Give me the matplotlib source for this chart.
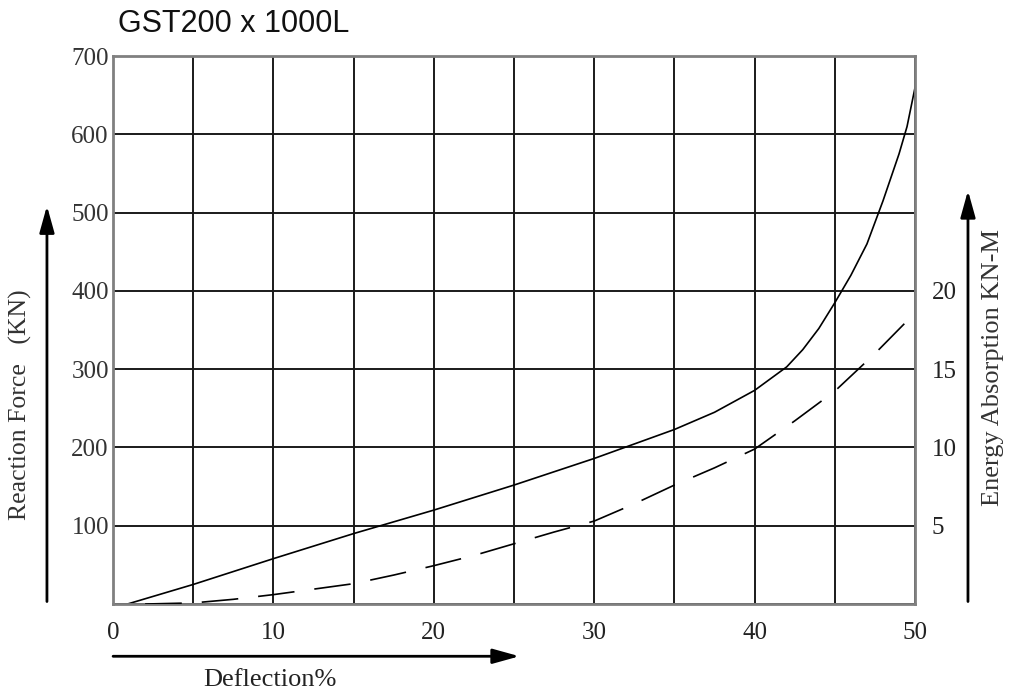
#! /usr/bin/env python
# -*- coding: utf-8 -*-
"""
GST200 x 1000L fender performance curve:
reaction force and energy absorption vs deflection
"""
import matplotlib
matplotlib.use('Agg')
import matplotlib.pyplot as plt
from matplotlib.patches import FancyArrowPatch

## Data
# Reaction force curve (solid), KN
force_defl = [0.9, 5, 10, 15, 20, 25, 30, 35, 37.5, 40, 41, 42, 43, 44,
              45, 46, 47, 48, 49, 49.5, 50]
force_kn = [0, 25, 58, 90, 120, 152, 186, 223, 245, 273, 288, 303, 325, 352,
            385, 420, 460, 515, 575, 610, 660]
# Energy absorption curve (dashed), KN-M
energy_defl = [2, 5, 7.5, 10, 12.5, 15, 17.5, 20, 22.5, 25, 27.5, 30, 32.5,
               35, 37.5, 40, 42.5, 45, 47.5, 50]
energy_knm = [0, 0.07, 0.3, 0.6, 0.95, 1.3, 1.85, 2.45, 3.1, 3.85, 4.6, 5.3,
              6.4, 7.6, 8.7, 9.9, 11.7, 13.6, 16.0, 18.6]

x_grid = list(range(0, 51, 5))
x_labels = ['0', '', '10', '', '20', '', '30', '', '40', '', '50']
y_grid = list(range(0, 701, 100))
y_labels = ['', '100', '200', '300', '400', '500', '600', '700']
e_ticks = [5, 10, 15, 20]

title = 'GST200 x 1000L'
serif = 'Liberation Serif'


def add_arrow(fig, start, end):
    """
    Draws a black arrow in figure coordinates
    """
    arr = FancyArrowPatch(start, end, transform=fig.transFigure,
                          arrowstyle='-|>,head_length=0.9,head_width=0.25',
                          mutation_scale=18, color='black', lw=2)
    fig.add_artist(arr)


def main():
    fig = plt.figure(figsize=(10.12, 6.93), dpi=100)
    ax = fig.add_axes([0.1117, 0.1284, 0.7925, 0.7906])
    #
    # Grid
    ax.set_xlim(0, 50)
    ax.set_ylim(0, 700)
    ax.set_xticks(x_grid)
    ax.set_xticklabels(x_labels, fontfamily=serif, fontsize=18)
    ax.set_yticks(y_grid)
    ax.set_yticklabels(y_labels, fontfamily=serif, fontsize=18)
    ax.tick_params(length=0)
    ax.tick_params(axis='x', pad=13, colors='#222222')
    ax.tick_params(axis='y', pad=3, colors='#333333')
    ax.grid(True, color='#1a1a1a', linewidth=1.4)
    for sp in ax.spines.values():
        sp.set_color('#808080')
        sp.set_linewidth(2)
    #
    # Reaction force
    ax.plot(force_defl, force_kn, color='black', linewidth=1.2)
    #
    # Energy absorption on right axis
    ax2 = ax.twinx()
    ax2.set_ylim(0, 35)
    ax2.set_yticks(e_ticks)
    ax2.set_yticklabels([str(t) for t in e_ticks], fontfamily=serif,
                        fontsize=18)
    ax2.tick_params(length=0, pad=12, colors='#222222')
    for sp in ax2.spines.values():
        sp.set_visible(False)
    ax2.plot(energy_defl, energy_knm, color='black', linewidth=1.2,
             dashes=(22, 12))
    #
    # Title
    fig.text(0.117, 0.965, title, fontsize=22, family='Liberation Sans',
             ha='left', va='center', color='#111111')
    #
    # Axis arrows and labels
    add_arrow(fig, (0.0464, 0.128), (0.0464, 0.707))
    add_arrow(fig, (0.9565, 0.128), (0.9565, 0.729))
    add_arrow(fig, (0.109, 0.053), (0.516, 0.053))
    fig.text(0.0198, 0.416, 'Reaction Force   (KN)', rotation=90,
             fontfamily=serif, fontsize=18.5, ha='center', va='center',
             color='#333333')
    fig.text(0.981, 0.469, 'Energy Absorption KN-M', rotation=90,
             fontfamily=serif, fontsize=19, ha='center', va='center',
             color='#333333')
    fig.text(0.267, 0.019, 'Deflection%', fontfamily=serif, fontsize=19,
             ha='center', va='center', color='#222222')
    #
    fig.savefig('out.png', dpi=100, facecolor='white')


if __name__ == '__main__':
    main()
